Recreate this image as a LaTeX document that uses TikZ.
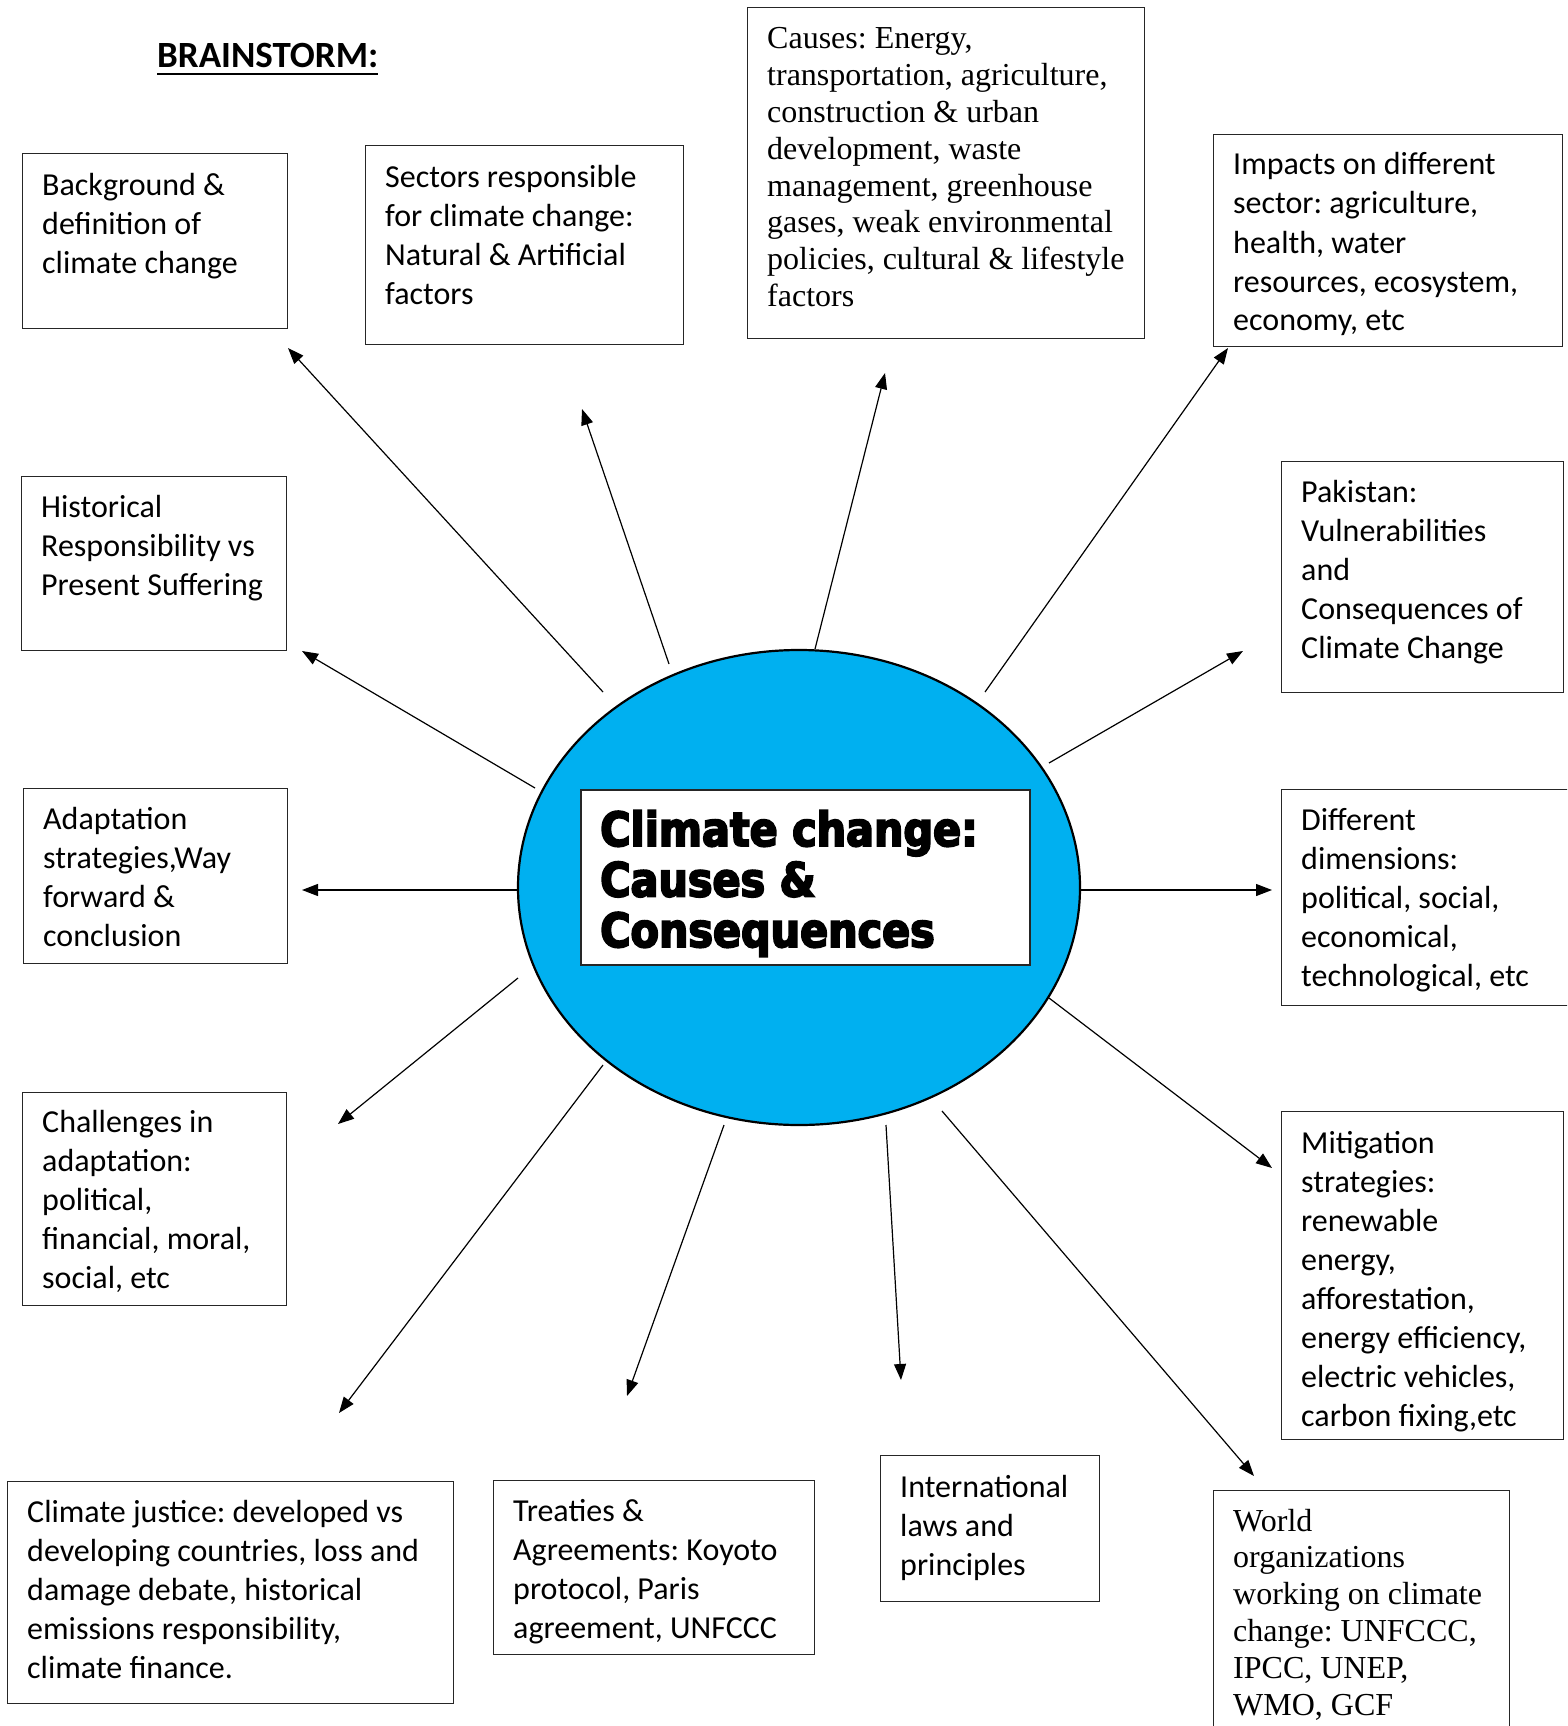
\documentclass[tikz,border=0pt]{standalone}
\usepackage{fontspec}
\setmainfont{Carlito}
\newfontfamily\serifm{Liberation Serif}
\newfontfamily\heavy{DejaVu Sans}[FakeStretch=0.88,BoldFeatures={FakeBold=4}]
\usetikzlibrary{arrows.meta,shapes.geometric}
\newcommand\boxlines[1]{\begin{tabular}[t]{@{}l@{}}#1\end{tabular}}
\definecolor{ellblue}{HTML}{00B0F0}
\frenchspacing
\begin{document}
\begin{tikzpicture}[x=1pt,y=-1pt,
  frame/.style={draw=black!85,line width=1.3pt,inner sep=0pt,anchor=north west,fill=none},
  txt/.style={inner sep=0pt,anchor=base west,font=\fontsize{32}{39}\selectfont},
  stxt/.style={inner sep=0pt,anchor=base west,font=\serifm\fontsize{32}{36.8}\selectfont},
  arr/.style={line width=1.2pt,-{Triangle[length=16pt,width=12pt]}}]
\clip (0,0) rectangle (1567,1726);
\fill[white] (0,0) rectangle (1567,1726);

% title
\node[inner sep=0pt,anchor=base west,font=\bfseries\fontsize{37}{44}\selectfont] (title) at (157,68) {BRAINSTORM:};
\draw[line width=2.8pt] ([yshift=-6pt]title.base west) -- ([yshift=-6pt]title.base east);

% centre
\node[ellipse,draw=black,line width=2.2pt,fill=ellblue,minimum width=562pt,minimum height=475pt,inner sep=0pt] (ell) at (799,887.5) {};
\node[frame,fill=white,line width=1.5pt,minimum width=449pt,minimum height=175pt] (cbox) at (580,789) {};
\node[inner sep=0pt,anchor=base west,font=\heavy\bfseries\fontsize{47}{50.5}\selectfont] (ctxt) at (600,846) {\boxlines{Climate change:\\Causes \&\\Consequences}};

% boxes
\node[frame,minimum width=265pt,minimum height=175pt] (bg) at (22,153) {};
\node[txt] (bgt) at (42,195) {\boxlines{Background \&\\definition of\\climate change}};

\node[frame,minimum width=318pt,minimum height=199pt] (sec) at (365,145) {};
\node[txt] (sect) at (385,187) {\boxlines{Sectors responsible\\for climate change:\\Natural \& Artificial\\factors}};

\node[frame,minimum width=397pt,minimum height=331pt] (cau) at (747,7) {};
\node[stxt] (caut) at (767,49) {\boxlines{Causes: Energy,\\transportation, agriculture,\\construction \& urban\\development, waste\\management, greenhouse\\gases, weak environmental\\policies, cultural \& lifestyle\\factors}};

\node[frame,minimum width=349pt,minimum height=212pt] (imp) at (1213,134) {};
\node[txt] (impt) at (1233,175) {\boxlines{Impacts on different\\sector: agriculture,\\health, water\\resources, ecosystem,\\economy, etc}};

\node[frame,minimum width=282pt,minimum height=231pt] (pak) at (1281,461) {};
\node[txt] (pakt) at (1301,502) {\boxlines{Pakistan:\\Vulnerabilities\\and\\Consequences of\\Climate Change}};

\node[frame,minimum width=320pt,minimum height=216pt] (dif) at (1281,789) {};
\node[txt] (dift) at (1301,830) {\boxlines{Different\\dimensions:\\political, social,\\economical,\\technological, etc}};

\node[frame,minimum width=282pt,minimum height=328pt] (mit) at (1281,1111) {};
\node[txt] (mitt) at (1301,1153) {\boxlines{Mitigation\\strategies:\\renewable\\energy,\\afforestation,\\energy efficiency,\\electric vehicles,\\carbon fixing,etc}};

\node[frame,minimum width=296pt,minimum height=290pt] (wor) at (1213,1490) {};
\node[stxt] (wort) at (1233,1531) {\boxlines{World\\organizations\\working on climate\\change: UNFCCC,\\IPCC, UNEP,\\WMO, GCF}};

\node[frame,minimum width=219pt,minimum height=146pt] (int) at (880,1455) {};
\node[txt] (intt) at (900,1497) {\boxlines{International\\laws and\\principles}};

\node[frame,minimum width=321pt,minimum height=174pt] (tre) at (493,1480) {};
\node[txt] (tret) at (513,1521) {\boxlines{Treaties \&\\Agreements: Koyoto\\protocol, Paris\\agreement, UNFCCC}};

\node[frame,minimum width=446pt,minimum height=222pt] (cj) at (7,1481) {};
\node[txt] (cjt) at (27,1522) {\boxlines{Climate justice: developed vs\\developing countries, loss and\\damage debate, historical\\emissions responsibility,\\climate finance.}};

\node[frame,minimum width=264pt,minimum height=213pt] (cha) at (22,1092) {};
\node[txt] (chat) at (42,1132) {\boxlines{Challenges in\\adaptation:\\political,\\financial, moral,\\social, etc}};

\node[frame,minimum width=264pt,minimum height=175pt] (ada) at (23,788) {};
\node[txt] (adat) at (43,829) {\boxlines{Adaptation\\strategies,Way\\forward \&\\conclusion}};

\node[frame,minimum width=265pt,minimum height=174pt] (his) at (21,476) {};
\node[txt] (hist) at (41,517) {\boxlines{Historical\\Responsibility vs\\Present Suffering}};

% arrow ends
\coordinate (s1) at (603,692);  \coordinate (t1) at (288,348);
\coordinate (s2) at (669,664);  \coordinate (t2) at (582,409);
\coordinate (s3) at (815,649);  \coordinate (t3) at (885,373);
\coordinate (s4) at (985,692);  \coordinate (t4) at (1228,348);
\coordinate (s5) at (1049,763); \coordinate (t5) at (1243,651);
\coordinate (s6) at (1080,890); \coordinate (t6) at (1272,890);
\coordinate (s7) at (1049,998); \coordinate (t7) at (1272,1168);
\coordinate (s8) at (942,1111); \coordinate (t8) at (1254,1476);
\coordinate (s9) at (886,1125); \coordinate (t9) at (901,1380);
\coordinate (s10) at (724,1125); \coordinate (t10) at (627,1396);
\coordinate (s11) at (603,1065); \coordinate (t11) at (339,1413);
\coordinate (s12) at (518,978);  \coordinate (t12) at (338,1124);
\coordinate (s13) at (518,890);  \coordinate (t13) at (302,890);
\coordinate (s14) at (535,788);  \coordinate (t14) at (302,651);

\foreach \i in {1,...,14} {\draw[arr] (s\i) -- (t\i);}
\end{tikzpicture}
\end{document}
